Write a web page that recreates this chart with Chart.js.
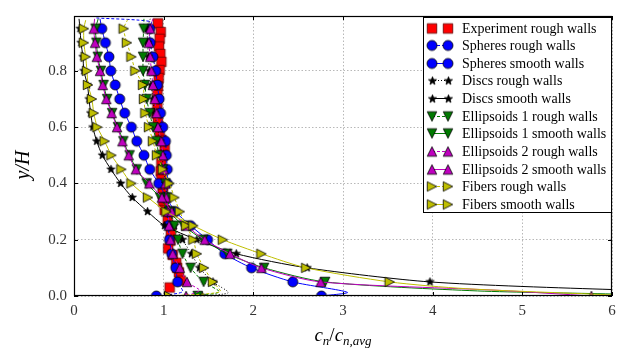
<!DOCTYPE html>
<html><head><meta charset="utf-8">
<script src="https://cdn.jsdelivr.net/npm/chart.js@4.4.0/dist/chart.umd.min.js"></script>
<style>html,body{margin:0;padding:0;background:#fff;}canvas{display:block;}</style>
</head><body>
<canvas id="c" width="628" height="355"></canvas>
<script>
// ---------------- data ----------------
const seriesLabels = [
  'Experiment rough walls', 'Spheres rough walls', 'Spheres smooth walls',
  'Discs rough walls', 'Discs smooth walls', 'Ellipsoids 1 rough walls',
  'Ellipsoids 1 smooth walls', 'Ellipsoids 2 rough walls', 'Ellipsoids 2 smooth walls',
  'Fibers rough walls', 'Fibers smooth walls'
];
const xTicks = [0, 1, 2, 3, 4, 5, 6];
const yTicks = [0.0, 0.2, 0.4, 0.6, 0.8];

const expY = [0.969,0.938,0.914,0.887,0.860,0.832,0.803,0.775,0.746,0.715,0.683,0.649,0.620,0.583,0.555,0.526,0.500,0.472,0.443,0.415,0.390,0.363,0.335,0.306,0.272,0.224,0.197,0.169,0.146,0.118,0.100,0.084,0.055,0.030];
const expX = [0.936,0.967,0.955,0.948,0.963,0.974,0.955,0.944,0.936,0.930,0.930,0.919,0.936,0.955,0.975,1.011,0.990,0.974,0.967,0.975,0.990,0.990,0.995,1.011,1.045,1.080,1.075,1.050,1.100,1.140,1.150,1.170,1.190,1.067];

const sphRoughY = [0.988,0.975,0.95,0.90,0.85,0.80,0.75,0.70,0.65,0.60,0.55,0.50,0.45,0.40,0.35,0.30,0.25,0.20,0.15,0.10,0.05,0.015,0.0];
const sphRoughX = [0.25,0.86,0.845,0.85,0.88,0.91,0.93,0.95,0.965,0.99,1.02,1.03,1.04,1.04,1.03,1.04,1.05,1.065,1.09,1.135,1.155,1.21,0.918];

const sphSmoothY = [0.985,0.95,0.90,0.85,0.80,0.75,0.70,0.65,0.60,0.55,0.50,0.45,0.40,0.35,0.30,0.25,0.20,0.15,0.10,0.05,0.013,0.0];
const sphSmoothX = [0.29,0.31,0.35,0.39,0.41,0.46,0.51,0.565,0.64,0.70,0.78,0.845,0.945,1.03,1.13,1.30,1.49,1.68,1.98,2.44,3.05,2.76];

const discRoughY = [0.985,0.95,0.90,0.85,0.80,0.75,0.70,0.65,0.60,0.55,0.50,0.45,0.40,0.35,0.30,0.25,0.20,0.15,0.10,0.05,0.012,0.0];
const discRoughX = [0.85,0.82,0.82,0.83,0.84,0.86,0.88,0.90,0.93,0.96,0.98,1.00,1.02,1.04,1.07,1.12,1.21,1.31,1.40,1.55,1.72,1.43];

const discSmoothY = [0.985,0.95,0.90,0.85,0.80,0.75,0.70,0.65,0.60,0.55,0.50,0.45,0.40,0.35,0.30,0.25,0.20,0.15,0.10,0.05,0.023,0.010,0.0];
const discSmoothX = [0.056,0.067,0.078,0.10,0.11,0.15,0.167,0.186,0.21,0.253,0.316,0.412,0.52,0.65,0.82,1.01,1.37,1.81,2.60,3.97,6.0,8.0,9.0];

const ell1RoughY = [0.985,0.95,0.90,0.85,0.80,0.75,0.70,0.65,0.60,0.55,0.50,0.45,0.40,0.35,0.30,0.25,0.20,0.15,0.10,0.05,0.015,0.0];
const ell1RoughX = [0.78,0.777,0.77,0.77,0.77,0.79,0.81,0.844,0.88,0.918,0.948,0.99,1.02,1.04,1.07,1.12,1.16,1.21,1.30,1.445,1.62,1.38];

const ell1SmoothY = [0.985,0.95,0.90,0.85,0.80,0.75,0.70,0.65,0.60,0.55,0.50,0.45,0.40,0.35,0.30,0.25,0.20,0.15,0.10,0.05,0.018,0.007,0.0];
const ell1SmoothX = [0.27,0.24,0.25,0.265,0.30,0.33,0.37,0.425,0.49,0.55,0.62,0.70,0.81,0.96,1.06,1.22,1.44,1.71,2.12,2.80,4.5,6.0,6.5];

const ell2RoughY = [0.985,0.95,0.90,0.85,0.80,0.75,0.70,0.65,0.60,0.55,0.50,0.45,0.40,0.35,0.30,0.25,0.20,0.15,0.10,0.05,0.02,0.0];
const ell2RoughX = [0.88,0.85,0.836,0.85,0.863,0.88,0.90,0.92,0.936,0.974,0.99,1.00,1.02,1.03,1.05,1.06,1.075,1.10,1.18,1.26,1.40,1.25];

const ell2SmoothY = [0.985,0.95,0.90,0.85,0.80,0.75,0.70,0.65,0.60,0.55,0.50,0.45,0.40,0.35,0.30,0.25,0.20,0.15,0.10,0.05,0.02,0.0];
const ell2SmoothX = [0.23,0.22,0.235,0.255,0.29,0.32,0.36,0.42,0.48,0.54,0.61,0.69,0.84,0.98,1.09,1.25,1.457,1.74,2.09,2.75,4.74,5.77];

const fibRoughY = [0.983,0.95,0.90,0.85,0.80,0.75,0.70,0.65,0.60,0.55,0.50,0.45,0.40,0.35,0.30,0.25,0.20,0.15,0.10,0.05,0.015,0.0];
const fibRoughX = [0.60,0.554,0.59,0.64,0.684,0.77,0.78,0.796,0.836,0.88,0.925,0.99,1.065,1.12,1.18,1.25,1.33,1.37,1.45,1.55,1.63,1.06];

const fibSmoothY = [0.98,0.95,0.90,0.85,0.80,0.75,0.70,0.65,0.60,0.55,0.50,0.45,0.40,0.35,0.30,0.25,0.20,0.15,0.10,0.05,0.026,0.007,0.0];
const fibSmoothX = [0.13,0.11,0.11,0.13,0.145,0.156,0.20,0.22,0.26,0.342,0.417,0.528,0.64,0.825,1.03,1.33,1.66,2.09,2.59,3.52,4.37,5.75,6.3];

// ---------------- styling ----------------
const SERIF = "'Liberation Serif', 'DejaVu Serif', serif";
const BLUE = '#0000ff', GREEN = '#007a00', MAG = '#bf00bf', YEL = '#bfbf00', RED = '#ff0000', BLK = '#000000';

function makeMarker(shape, fill, size) {
  const s = Math.ceil(size) + 4;
  const c = document.createElement('canvas');
  c.width = s; c.height = s;
  const g = c.getContext('2d');
  const h = s / 2, r = size / 2;
  g.beginPath();
  if (shape === 'circle') {
    g.arc(h, h, r, 0, Math.PI * 2);
  } else if (shape === 'square') {
    g.rect(h - r, h - r, 2 * r, 2 * r);
  } else if (shape === 'up') {
    g.moveTo(h, h - r); g.lineTo(h + r, h + r); g.lineTo(h - r, h + r); g.closePath();
  } else if (shape === 'down') {
    g.moveTo(h, h + r); g.lineTo(h + r, h - r); g.lineTo(h - r, h - r); g.closePath();
  } else if (shape === 'right') {
    g.moveTo(h + r, h); g.lineTo(h - r, h - r); g.lineTo(h - r, h + r); g.closePath();
  } else if (shape === 'star') {
    const ri = r * 0.42;
    for (let k = 0; k < 10; k++) {
      const a = -Math.PI / 2 + k * Math.PI / 5;
      const rr = k % 2 === 0 ? r : ri;
      const px = h + rr * Math.cos(a), py = h + rr * Math.sin(a);
      k === 0 ? g.moveTo(px, py) : g.lineTo(px, py);
    }
    g.closePath();
  }
  g.fillStyle = fill; g.fill();
  g.lineWidth = 0.8; g.strokeStyle = shape === 'square' ? '#600000' : '#000'; g.stroke();
  return c;
}

const mkSquare = makeMarker('square', RED, 9.5);
const mkCircle = makeMarker('circle', BLUE, 10);
const mkStar = makeMarker('star', BLK, 8.5);
const mkDown = makeMarker('down', GREEN, 9.5);
const mkUp = makeMarker('up', MAG, 9.5);
const mkRight = makeMarker('right', YEL, 9.5);

const styles = [
  { color: RED, marker: mkSquare, line: false, dash: [] },
  { color: BLUE, marker: mkCircle, line: true, dash: [3, 2] },
  { color: BLUE, marker: mkCircle, line: true, dash: [] },
  { color: BLK, marker: mkStar, line: true, dash: [1, 2] },
  { color: BLK, marker: mkStar, line: true, dash: [] },
  { color: GREEN, marker: mkDown, line: true, dash: [3, 2] },
  { color: GREEN, marker: mkDown, line: true, dash: [] },
  { color: MAG, marker: mkUp, line: true, dash: [3, 2] },
  { color: MAG, marker: mkUp, line: true, dash: [] },
  { color: YEL, marker: mkRight, line: true, dash: [3, 2] },
  { color: YEL, marker: mkRight, line: true, dash: [] }
];

const seriesData = [
  [expX, expY], [sphRoughX, sphRoughY], [sphSmoothX, sphSmoothY],
  [discRoughX, discRoughY], [discSmoothX, discSmoothY],
  [ell1RoughX, ell1RoughY], [ell1SmoothX, ell1SmoothY],
  [ell2RoughX, ell2RoughY], [ell2SmoothX, ell2SmoothY],
  [fibRoughX, fibRoughY], [fibSmoothX, fibSmoothY]
];

function isMarkerLevel(y) { return Math.abs(y * 20 - Math.round(y * 20)) < 1e-6; }

const datasets = seriesData.map(([xs, ys], i) => {
  const st = styles[i];
  return {
    label: seriesLabels[i],
    data: xs.map((x, k) => ({ x: x, y: ys[k] })),
    showLine: st.line,
    borderColor: st.color,
    backgroundColor: st.color,
    borderWidth: 1,
    borderDash: st.dash,
    tension: 0.25,
    pointStyle: st.marker,
    pointRadius: (ctx) => {
      if (i === 0) return 5;
      const raw = ctx.raw;
      return raw && isMarkerLevel(raw.y) ? 5 : 0;
    },
    pointHoverRadius: 0,
    order: -i
  };
});

// ---------------- plugin: frame, ticks, titles, legend ----------------
const decor = {
  id: 'decor',
  afterDatasetsDraw(chart) {
    const g = chart.ctx, a = chart.chartArea;
    const xs = chart.scales.x, ys = chart.scales.y;
    g.save();
    // frame
    g.strokeStyle = '#000'; g.lineWidth = 1.2; g.setLineDash([]);
    g.strokeRect(a.left + 0.5, a.top + 0.5, a.right - a.left - 1, a.bottom - a.top - 1);
    // inside ticks on all sides
    g.lineWidth = 1;
    g.beginPath();
    xTicks.forEach(v => {
      const px = Math.round(xs.getPixelForValue(v)) + 0.5;
      g.moveTo(px, a.bottom); g.lineTo(px, a.bottom - 4);
      g.moveTo(px, a.top); g.lineTo(px, a.top + 4);
    });
    yTicks.forEach(v => {
      const py = Math.round(ys.getPixelForValue(v)) + 0.5;
      g.moveTo(a.left, py); g.lineTo(a.left + 4, py);
      g.moveTo(a.right, py); g.lineTo(a.right - 4, py);
    });
    g.stroke();

    // y title
    g.fillStyle = '#000';
    g.font = "italic 20px " + SERIF;
    g.textAlign = 'center'; g.textBaseline = 'middle';
    g.save();
    g.translate(24, 165);
    g.rotate(-Math.PI / 2);
    g.fillText('y/H', 0, 0);
    g.restore();

    // x title with subscripts: c_n / c_{n,avg}
    const parts = [
      { t: 'c', f: "italic 19px " + SERIF, dy: 0 },
      { t: 'n', f: "italic 13px " + SERIF, dy: 4 },
      { t: '/', f: "19px " + SERIF, dy: 0 },
      { t: 'c', f: "italic 19px " + SERIF, dy: 0 },
      { t: 'n,avg', f: "italic 13px " + SERIF, dy: 4 }
    ];
    let total = 0;
    parts.forEach(p => { g.font = p.f; p.w = g.measureText(p.t).width; total += p.w; });
    let cx = (a.left + a.right) / 2 - total / 2;
    const base = 341;
    g.textAlign = 'left'; g.textBaseline = 'alphabetic';
    parts.forEach(p => { g.font = p.f; g.fillText(p.t, cx, base + p.dy); cx += p.w; });

    // legend
    const lw = 189, lh = 196;
    const lx = a.right - lw, ly = a.top + 1;
    g.fillStyle = '#fff';
    g.fillRect(lx, ly, lw, lh);
    g.strokeStyle = '#000'; g.lineWidth = 1;
    g.strokeRect(Math.round(lx) + 0.5, Math.round(ly) + 0.5, lw - 1, lh - 1);
    g.font = "14px " + SERIF;
    g.textBaseline = 'middle'; g.textAlign = 'left';
    seriesLabels.forEach((lab, i) => {
      const st = styles[i];
      const ry = Math.round(ly + 10.5 + i * 17.65);
      const m1 = lx + 9, m2 = lx + 25;
      if (st.line) {
        g.beginPath(); g.strokeStyle = st.color; g.lineWidth = 1; g.setLineDash(st.dash);
        g.moveTo(m1, ry + 0.5); g.lineTo(m2, ry + 0.5); g.stroke(); g.setLineDash([]);
      }
      [m1, m2].forEach(mx => g.drawImage(st.marker, Math.round(mx - st.marker.width / 2), Math.round(ry - st.marker.height / 2) + 0.5));
      g.fillStyle = '#000';
      g.fillText(lab, lx + 39, ry + 1);
    });
    g.restore();
  }
};

new Chart(document.getElementById('c'), {
  type: 'scatter',
  data: { datasets: datasets },
  options: {
    responsive: false,
    animation: false,
    devicePixelRatio: 1,
    layout: { padding: { left: 0, right: 16, top: 6, bottom: 0 } },
    plugins: { legend: { display: false }, tooltip: { enabled: false } },
    scales: {
      x: {
        type: 'linear', min: 0, max: 6,
        afterFit: s => { s.height = 59; },
        afterBuildTicks: s => { s.ticks = xTicks.map(v => ({ value: v })); },
        ticks: { color: '#333', font: { family: SERIF, size: 15 }, padding: 6, callback: v => String(v) },
        grid: { color: '#b8b8b8', lineWidth: 1, drawTicks: false },
        border: { display: false, dash: [1.5, 2] }
      },
      y: {
        type: 'linear', min: 0, max: 0.995,
        afterFit: s => { s.width = 74; },
        afterBuildTicks: s => { s.ticks = yTicks.map(v => ({ value: v })); },
        ticks: { color: '#333', font: { family: SERIF, size: 15 }, padding: 7, callback: v => v.toFixed(1) },
        grid: { color: '#b8b8b8', lineWidth: 1, drawTicks: false },
        border: { display: false, dash: [1.5, 2] }
      }
    }
  },
  plugins: [decor]
});
</script>
</body></html>
